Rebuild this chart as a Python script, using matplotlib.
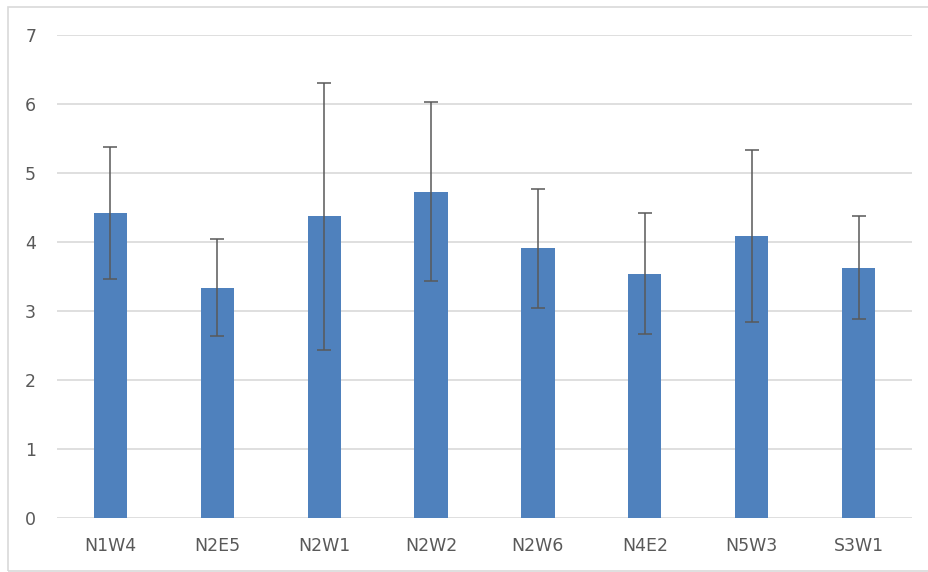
import numpy as np
import matplotlib
matplotlib.use("Agg")
import matplotlib.pyplot as plt
from matplotlib.patches import Rectangle

sites = ["N1W4", "N2E5", "N2W1", "N2W2", "N2W6", "N4E2", "N5W3", "S3W1"]
means = [4.42, 3.34, 4.37, 4.73, 3.91, 3.54, 4.09, 3.63]
errs = [0.96, 0.70, 1.93, 1.30, 0.86, 0.88, 1.25, 0.74]
yticks = [0, 1, 2, 3, 4, 5, 6, 7]

plt.rcParams['font.family'] = ['DejaVu Sans']

W, H = 929, 572
fig = plt.figure(figsize=(W / 100, H / 100), dpi=100)
ax = fig.add_axes([57 / W, 1 - 518 / H, (912 - 57) / W, (518 - 35) / H])

x = np.arange(len(sites))
ax.bar(x, means, width=0.31, color="#4F81BD", zorder=2,
       yerr=errs, error_kw=dict(ecolor="#595959", elinewidth=1.1,
                                capsize=5, capthick=1.1, zorder=3))

ax.set_xlim(-0.5, len(sites) - 0.5)
ax.set_ylim(0, 7)
ax.set_yticks(yticks)
ax.set_xticks(x)
ax.set_xticklabels(sites)
ax.grid(axis="y", color="#D9D9D9", linewidth=1.2, zorder=0)
ax.set_axisbelow(True)
for s in ax.spines.values():
    s.set_visible(False)
ax.tick_params(axis="both", length=0, labelsize=12.5, colors="#595959")
ax.tick_params(axis="y", pad=15)
ax.tick_params(axis="x", pad=14)

# outer chart border
fig.patches.append(Rectangle((8 / W, 0.002), 1.2, 1 - 7 / H - 0.002,
                             transform=fig.transFigure, fill=False,
                             edgecolor="#D9D9D9", linewidth=1.2))

fig.savefig("out.png", dpi=100)
